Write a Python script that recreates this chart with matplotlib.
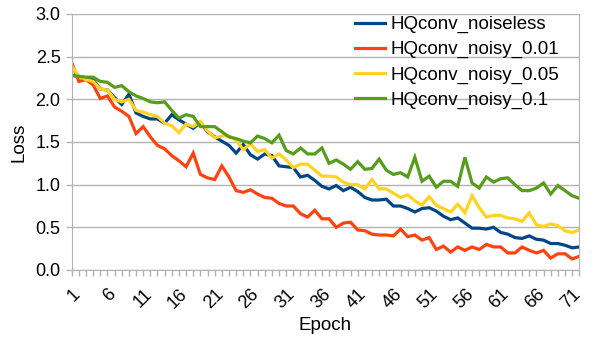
import matplotlib
matplotlib.use("Agg")
import matplotlib.pyplot as plt

# Loss per epoch
epochs = list(range(1, 73))

noiseless = [
    2.28, 2.27, 2.25, 2.23, 2.12, 2.11, 2.02, 1.94, 2.06, 1.84,
    1.80, 1.77, 1.77, 1.72, 1.82, 1.76, 1.71, 1.66, 1.73, 1.62,
    1.56, 1.51, 1.46, 1.37, 1.47, 1.35, 1.30, 1.36, 1.34, 1.22,
    1.21, 1.20, 1.09, 1.11, 1.05, 0.98, 0.95, 0.99, 0.93, 0.97,
    0.92, 0.85, 0.82, 0.82, 0.83, 0.75, 0.75, 0.72, 0.68, 0.72,
    0.73, 0.69, 0.63, 0.59, 0.61, 0.55, 0.49, 0.49, 0.48, 0.50,
    0.44, 0.42, 0.38, 0.37, 0.40, 0.36, 0.35, 0.31, 0.31, 0.29,
    0.26, 0.27,
]
noisy_001 = [
    2.43, 2.21, 2.23, 2.17, 2.01, 2.04, 1.91, 1.86, 1.80, 1.60,
    1.68, 1.56, 1.46, 1.42, 1.34, 1.28, 1.21, 1.37, 1.12, 1.08,
    1.06, 1.22, 1.09, 0.93, 0.91, 0.94, 0.89, 0.85, 0.84, 0.78,
    0.75, 0.75, 0.66, 0.62, 0.70, 0.60, 0.60, 0.50, 0.55, 0.56,
    0.47, 0.46, 0.42, 0.41, 0.41, 0.40, 0.48, 0.39, 0.41, 0.35,
    0.38, 0.24, 0.28, 0.21, 0.27, 0.23, 0.27, 0.24, 0.30, 0.27,
    0.27, 0.20, 0.20, 0.27, 0.23, 0.20, 0.23, 0.14, 0.19, 0.19,
    0.13, 0.16,
]
noisy_005 = [
    2.39, 2.27, 2.23, 2.21, 2.12, 2.11, 2.00, 1.97, 2.00, 1.87,
    1.85, 1.82, 1.80, 1.72, 1.69, 1.61, 1.71, 1.68, 1.74, 1.63,
    1.55, 1.57, 1.57, 1.52, 1.41, 1.48, 1.39, 1.41, 1.31, 1.36,
    1.29, 1.20, 1.24, 1.24, 1.17, 1.10, 1.10, 1.09, 1.03, 1.00,
    1.00, 0.95, 1.06, 0.95, 0.95, 0.90, 0.85, 0.88, 0.81, 0.76,
    0.86, 0.76, 0.72, 0.68, 0.77, 0.67, 0.87, 0.73, 0.62, 0.64,
    0.64, 0.61, 0.60, 0.57, 0.67, 0.53, 0.51, 0.54, 0.52, 0.46,
    0.44, 0.47,
]
noisy_01 = [
    2.28, 2.27, 2.26, 2.26, 2.21, 2.20, 2.14, 2.16, 2.09, 2.04,
    2.01, 1.97, 1.96, 1.97, 1.87, 1.78, 1.82, 1.80, 1.68, 1.68,
    1.68, 1.62, 1.56, 1.54, 1.51, 1.49, 1.57, 1.54, 1.49, 1.58,
    1.40, 1.36, 1.43, 1.36, 1.36, 1.43, 1.25, 1.29, 1.24, 1.18,
    1.27, 1.18, 1.19, 1.30, 1.17, 1.12, 1.14, 1.09, 1.32, 1.04,
    1.10, 0.97, 1.04, 1.04, 0.98, 1.32, 1.02, 0.96, 1.09, 1.03,
    1.07, 1.08, 1.00, 0.93, 0.93, 0.96, 1.02, 0.89, 0.99, 0.93,
    0.87, 0.84,
]

series = [
    ("HQconv_noiseless", noiseless, "#004586"),
    ("HQconv_noisy_0.01", noisy_001, "#ff420e"),
    ("HQconv_noisy_0.05", noisy_005, "#ffd320"),
    ("HQconv_noisy_0.1", noisy_01, "#579d1c"),
]

plt.rcParams["font.family"] = ["Liberation Sans", "DejaVu Sans"]
grid_color = "#b3b3b3"

fig = plt.figure(figsize=(6.05, 3.4), dpi=100)
ax = fig.add_axes([71.7 / 605, 70 / 340, 507.6 / 605, 256 / 340])

for name, values, color in series:
    ax.plot(epochs, values, color=color, linewidth=2.3, label=name,
            solid_joinstyle="miter")

ax.set_xlim(1, 72)
ax.set_ylim(0, 3.0)
ax.set_yticks([0, 0.5, 1.0, 1.5, 2.0, 2.5, 3.0])
ax.set_yticklabels(["0.0", "0.5", "1.0", "1.5", "2.0", "2.5", "3.0"])
ax.set_xticks(epochs)
ax.set_xticklabels([str(e) if (e - 1) % 5 == 0 else "" for e in epochs],
                   rotation=45, ha="right", va="top", rotation_mode="anchor")

ax.grid(axis="y", color=grid_color, linewidth=1)
ax.set_axisbelow(True)
ax.tick_params(axis="both", colors=grid_color, labelcolor="black",
               labelsize=13, length=4, width=1)
ax.tick_params(axis="x", pad=7)
ax.tick_params(axis="y", pad=4)

for side in ["left", "bottom", "right"]:
    ax.spines[side].set_color(grid_color)
ax.spines["top"].set_visible(False)

ax.set_xlabel("Epoch", fontsize=13.5, labelpad=4)
ax.set_ylabel("Loss", fontsize=13.5, labelpad=6)

ax.legend(loc="upper left", bbox_to_anchor=(355 / 605, 1 - 16 / 340),
          bbox_transform=fig.transFigure, frameon=False, fontsize=13.5,
          borderpad=0, borderaxespad=0, handlelength=1.6,
          handletextpad=0.3, labelspacing=0.42)

fig.savefig("out.png", dpi=100)
